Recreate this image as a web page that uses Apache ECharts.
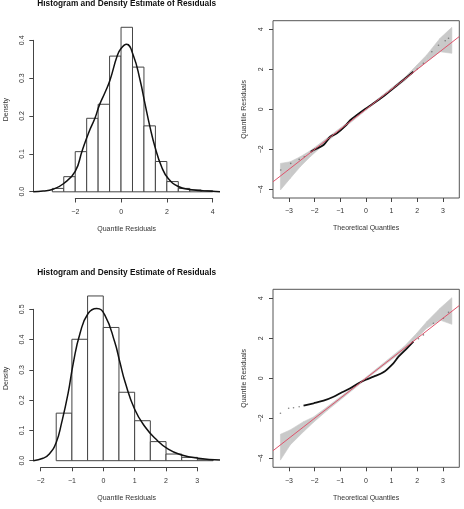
<!DOCTYPE html>
<html>
<head>
<meta charset="utf-8">
<script src="https://cdn.jsdelivr.net/npm/echarts@6/dist/echarts.min.js"></script>
<style>
html,body{margin:0;padding:0;background:#fff;}
#chart{width:464px;height:509px;}
</style>
</head>
<body>
<div id="chart"></div>
<script>
// ---- top row: first model ----
var hist1Breaks = [-3, -2.5, -2, -1.5, -1, -0.5, 0, 0.5, 1, 1.5, 2, 2.5, 3, 3.5, 4];
var hist1Dens = [0.009, 0.040, 0.106, 0.194, 0.231, 0.358, 0.434, 0.329, 0.174, 0.080, 0.027, 0.009, 0.005, 0.003];
var kde1X = [-3.83, -3.4, -3.0, -2.5, -2.0, -1.7, -1.4, -1.14, -0.95, -0.7, -0.48, -0.17, 0.0, 0.24, 0.53, 0.83, 1.04, 1.26, 1.48, 1.77, 2.06, 2.5, 3.0, 3.6, 4.32];
var kde1Y = [0.000, 0.002, 0.006, 0.022, 0.054, 0.108, 0.158, 0.194, 0.228, 0.262, 0.295, 0.358, 0.378, 0.389, 0.361, 0.295, 0.234, 0.172, 0.119, 0.066, 0.035, 0.014, 0.006, 0.003, 0.000];
var hist1XTicks = [-2, 0, 2, 4];
var hist1YTicks = [0, 0.1, 0.2, 0.3, 0.4];

var qq1X = [-2.15, -2.04, -1.65, -1.39, -1.13, -0.8, -0.61, -0.35, -0.03, 0.3, 0.75, 1.07, 1.46, 1.85];
var qq1Y = [-2.12, -2.03, -1.78, -1.37, -1.2, -0.83, -0.54, -0.28, 0.02, 0.3, 0.72, 1.05, 1.47, 1.88];
var qq1TailX = [-3.32, -2.93, -2.6, -2.4, 2.0, 2.24, 2.57, 2.83, 3.09, 3.22];
var qq1TailY = [-3.03, -2.7, -2.5, -2.37, 2.02, 2.3, 2.88, 3.2, 3.43, 3.55];
var band1X = [-3.33, -2.95, -2.56, -2.17, -1.5, 0, 1.5, 1.98, 2.37, 2.89, 3.35];
var band1Lo = [-4.03, -3.45, -2.87, -2.37, -1.6, -0.05, 1.42, 1.97, 2.38, 2.88, 2.8];
var band1Hi = [-2.7, -2.62, -2.37, -2.07, -1.42, 0.05, 1.58, 2.2, 2.72, 3.55, 4.1];

// ---- bottom row: second model ----
var hist2Breaks = [-1.5, -1, -0.5, 0, 0.5, 1, 1.5, 2, 2.5, 3, 3.5];
var hist2Dens = [0.157, 0.401, 0.544, 0.440, 0.226, 0.132, 0.063, 0.022, 0.011, 0.003];
var kde2X = [-2.23, -1.92, -1.72, -1.5, -1.33, -1.12, -0.96, -0.74, -0.48, -0.21, 0.05, 0.37, 0.53, 0.7, 1.0, 1.33, 1.65, 2.07, 2.5, 3.03, 3.72];
var kde2Y = [0.000, 0.008, 0.022, 0.060, 0.124, 0.223, 0.320, 0.421, 0.487, 0.503, 0.481, 0.390, 0.325, 0.258, 0.170, 0.112, 0.074, 0.038, 0.019, 0.008, 0.002];
var hist2XTicks = [-2, -1, 0, 1, 2, 3];
var hist2YTicks = [0, 0.1, 0.2, 0.3, 0.4, 0.5];

var qq2X = [-2.43, -2.04, -1.65, -1.26, -0.93, -0.61, -0.29, 0.0, 0.3, 0.68, 1.07, 1.27, 1.6, 1.85];
var qq2Y = [-1.37, -1.25, -1.12, -0.92, -0.7, -0.5, -0.25, -0.07, 0.08, 0.3, 0.75, 1.08, 1.5, 1.83];
var qq2TailX = [-3.33, -3.01, -2.82, -2.6, 2.05, 2.24, 2.63, 3.02, 3.22];
var qq2TailY = [-1.75, -1.5, -1.47, -1.42, 1.98, 2.17, 2.75, 3.0, 3.3];
var band2X = [-3.33, -2.95, -2.43, -2.04, -1.5, 0, 1.5, 1.98, 2.37, 2.89, 3.35];
var band2Lo = [-4.09, -3.33, -2.67, -2.2, -1.6, -0.05, 1.42, 2.0, 2.5, 2.91, 2.7];
var band2Hi = [-2.8, -2.58, -2.17, -1.93, -1.42, 0.05, 1.6, 2.25, 2.83, 3.5, 4.03];

var qqXTicks = [-3, -2, -1, 0, 1, 2, 3];
var qqYTicks = [-4, -2, 0, 2, 4];
var refLine = [-3.62, 3.64];

var FONT = 'Liberation Sans';
var INK = '#333';

function zip(a, b) { return a.map(function (v, i) { return [v, b[i]]; }); }
function minus(v) { return String(v).replace('-', '\u2212'); }
function bins(br, h) {
    var out = [];
    for (var i = 0; i < h.length; i++) out.push([br[i], br[i + 1], h[i]]);
    return out;
}
// band as quads between consecutive points
function bandQuads(x, lo, hi) {
    var out = [];
    for (var i = 0; i < x.length - 1; i++) out.push([x[i], lo[i], hi[i], x[i + 1], lo[i + 1], hi[i + 1]]);
    return out;
}
function histRect(params, api) {
    var a = api.coord([api.value(0), api.value(2)]);
    var b = api.coord([api.value(1), 0]);
    return {
        type: 'rect',
        shape: { x: a[0], y: a[1], width: b[0] - a[0], height: b[1] - a[1] },
        style: { fill: '#fff', stroke: '#444', lineWidth: 1 }
    };
}
function bandQuad(params, api) {
    var pts = [
        api.coord([api.value(0), api.value(1)]),
        api.coord([api.value(3), api.value(4)]),
        api.coord([api.value(3), api.value(5)]),
        api.coord([api.value(0), api.value(2)])
    ];
    return {
        type: 'polygon',
        shape: { points: pts },
        style: { fill: '#c9c9c9', stroke: '#c9c9c9', lineWidth: 0.6 }
    };
}

var tickStyle = { show: true, inside: false, length: 4, lineStyle: { color: '#444', width: 1 } };
var labStyle = { fontSize: 7, color: INK, fontFamily: FONT };
var nameStyle = { fontSize: 7, color: INK, fontFamily: FONT };
function hidden(gi, min, max) {
    return { gridIndex: gi, type: 'value', min: min, max: max, show: false };
}
// invisible axis that only carries the axis title
function named(gi, min, max, name, gap, rot) {
    return {
        gridIndex: gi, type: 'value', min: min, max: max,
        axisLine: { show: false, onZero: false }, axisTick: { show: false }, axisLabel: { show: false }, splitLine: { show: false },
        name: name, nameLocation: 'middle', nameGap: gap, nameRotate: rot, nameTextStyle: nameStyle
    };
}
// R style axis spanning only first..last tick
function rAxis(gi, ticks, step, fmt, rot) {
    return {
        gridIndex: gi, type: 'value', min: ticks[0], max: ticks[ticks.length - 1], interval: step,
        axisLine: { show: true, onZero: false, lineStyle: { color: '#444', width: 1 } },
        axisTick: tickStyle,
        axisLabel: Object.assign({ margin: rot ? 8 : 10, rotate: rot || 0, formatter: fmt }, labStyle),
        splitLine: { show: false }
    };
}
function qqAxis(gi, min, max, ticks, name, gap, rot) {
    return {
        gridIndex: gi, type: 'value', min: min, max: max,
        axisLine: { show: false, onZero: false },
        axisTick: Object.assign({ customValues: ticks }, tickStyle),
        axisLabel: Object.assign({ customValues: ticks, margin: rot ? 8 : 10, rotate: rot || 0, formatter: minus }, labStyle),
        splitLine: { show: false },
        name: name, nameLocation: 'middle', nameGap: gap, nameRotate: rot, nameTextStyle: nameStyle
    };
}
function qqSeries(gi, bx, lo, hi, px, py, tx, ty) {
    return [
        { type: 'custom', xAxisIndex: gi, yAxisIndex: gi, data: bandQuads(bx, lo, hi),
          encode: { x: [0, 3], y: [1, 2, 4, 5] }, renderItem: bandQuad, silent: true, clip: true, z: 1 },
        { type: 'line', xAxisIndex: gi, yAxisIndex: gi, data: zip(px, py), symbol: 'none', smooth: 0.3,
          lineStyle: { color: '#111', width: 1.8 }, z: 2 },
        { type: 'scatter', xAxisIndex: gi, yAxisIndex: gi, data: zip(tx, ty), symbolSize: 1.6,
          itemStyle: { color: '#666' }, z: 2 },
        { type: 'line', xAxisIndex: gi, yAxisIndex: gi, data: zip(refLine, refLine), symbol: 'none',
          lineStyle: { color: '#DF536B', width: 1 }, z: 3 }
    ];
}

var chart = echarts.init(document.getElementById('chart'), null, { renderer: 'canvas' });
var fmt1 = function (v) { return v.toFixed(1); };

chart.setOption({
    animation: false,
    backgroundColor: '#fff',
    graphic: [
        { type: 'text', x: 126.7, y: 0, style: { text: 'Histogram and Density Estimate of Residuals', align: 'center', verticalAlign: 'top', font: 'bold 8.3px "Liberation Sans"', fill: '#111' } },
        { type: 'text', x: 126.7, y: 268.7, style: { text: 'Histogram and Density Estimate of Residuals', align: 'center', verticalAlign: 'top', font: 'bold 8.3px "Liberation Sans"', fill: '#111' } }
    ],
    grid: [
        { left: 33.3, top: 20.7, width: 186.7, height: 177.8 },   // 0 hist 1 plot region
        { left: 75.3, top: 20.7, width: 137.4, height: 177.8 },   // 1 hist 1 x axis
        { left: 33.3, top: 40.3, width: 10, height: 151.4 },      // 2 hist 1 y axis
        { left: 33.3, top: 289.3, width: 186.7, height: 178 },    // 3 hist 2 plot region
        { left: 40.7, top: 289.3, width: 156.6, height: 178 },    // 4 hist 2 x axis
        { left: 33.3, top: 309.3, width: 10, height: 151.4 },     // 5 hist 2 y axis
        { left: 273, top: 20.7, width: 186.3, height: 177.3, show: true, borderColor: '#555', borderWidth: 1 }, // 6 qq 1
        { left: 273, top: 289.3, width: 186.3, height: 178, show: true, borderColor: '#555', borderWidth: 1 }   // 7 qq 2
    ],
    xAxis: [
        named(0, -3.83, 4.32, 'Quantile Residuals', 27, 0),
        rAxis(1, hist1XTicks, 2, minus),
        hidden(2, 0, 1),
        named(3, -2.23, 3.72, 'Quantile Residuals', 27, 0),
        rAxis(4, hist2XTicks, 1, minus),
        hidden(5, 0, 1),
        qqAxis(6, -3.62, 3.64, qqXTicks, 'Theoretical Quantiles', 27, 0),
        qqAxis(7, -3.62, 3.64, qqXTicks, 'Theoretical Quantiles', 27, 0)
    ],
    yAxis: [
        named(0, -0.0176, 0.4514, 'Density', 24, 90),
        hidden(1, 0, 1),
        rAxis(2, hist1YTicks, 0.1, fmt1, 90),
        named(3, -0.0218, 0.566, 'Density', 24, 90),
        hidden(4, 0, 1),
        rAxis(5, hist2YTicks, 0.1, fmt1, 90),
        qqAxis(6, -4.43, 4.43, qqYTicks, 'Quantile Residuals', 25, 90),
        qqAxis(7, -4.45, 4.45, qqYTicks, 'Quantile Residuals', 25, 90)
    ],
    series: [
        { type: 'custom', xAxisIndex: 0, yAxisIndex: 0, data: bins(hist1Breaks, hist1Dens),
          encode: { x: [0, 1], y: 2 }, renderItem: histRect, z: 1 },
        { type: 'line', xAxisIndex: 0, yAxisIndex: 0, data: zip(kde1X, kde1Y), smooth: true, symbol: 'none',
          lineStyle: { color: '#111', width: 1.5 }, z: 2 },
        { type: 'custom', xAxisIndex: 3, yAxisIndex: 3, data: bins(hist2Breaks, hist2Dens),
          encode: { x: [0, 1], y: 2 }, renderItem: histRect, z: 1 },
        { type: 'line', xAxisIndex: 3, yAxisIndex: 3, data: zip(kde2X, kde2Y), smooth: true, symbol: 'none',
          lineStyle: { color: '#111', width: 1.5 }, z: 2 }
    ].concat(
        qqSeries(6, band1X, band1Lo, band1Hi, qq1X, qq1Y, qq1TailX, qq1TailY),
        qqSeries(7, band2X, band2Lo, band2Hi, qq2X, qq2Y, qq2TailX, qq2TailY)
    )
});
</script>
</body>
</html>
